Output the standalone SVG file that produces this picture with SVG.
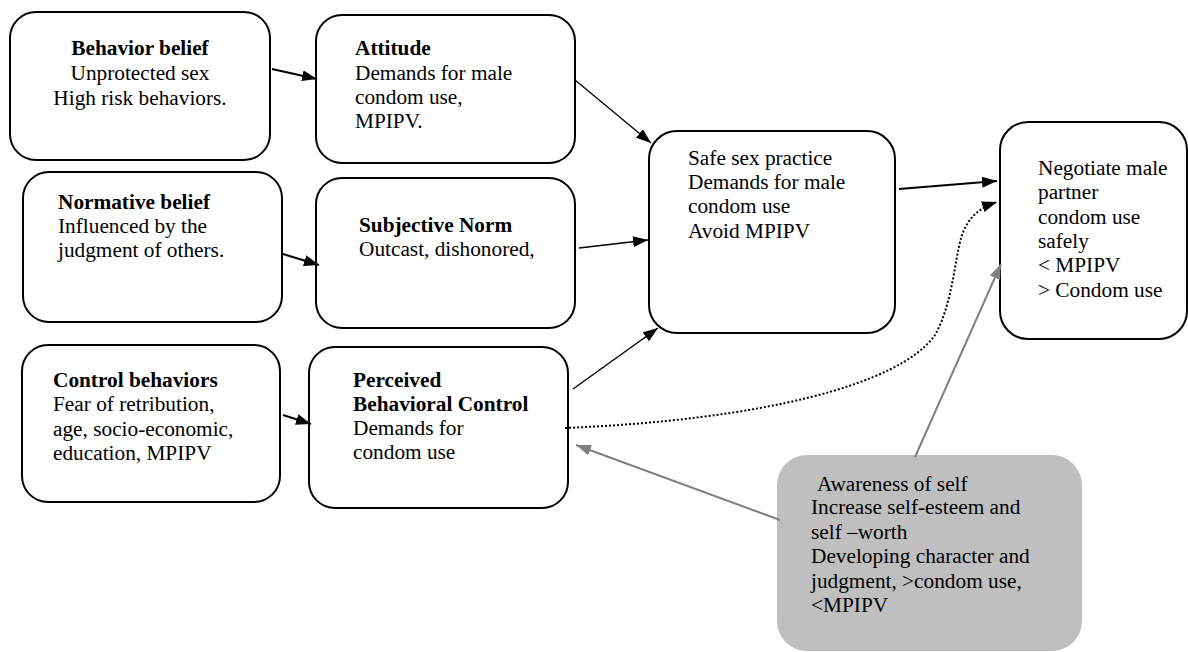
<svg xmlns="http://www.w3.org/2000/svg" width="1188" height="652" viewBox="0 0 1188 652">
<style>
.box{fill:#fff;stroke:#000;stroke-width:2}
.grey{fill:#bfbfbf;stroke:none}
.t{font-size:21.3px;fill:#000}
.b{font-weight:bold}
.c{stroke:#000;fill:none}
.g{stroke:#808080;fill:none;stroke-width:2}
</style>
<defs>
<marker id="ah" markerUnits="userSpaceOnUse" markerWidth="15" markerHeight="11" refX="15" refY="5.5" orient="auto"><path d="M0,0 L15,5.5 L0,11 z" fill="#000"/></marker>
<marker id="ahg" markerUnits="userSpaceOnUse" markerWidth="15" markerHeight="11" refX="15" refY="5.5" orient="auto"><path d="M0,0 L15,5.5 L0,11 z" fill="#808080"/></marker>
</defs>
<g font-family="Liberation Serif, DejaVu Serif, serif">
<g id="n1"><rect class="box" x="10" y="12" width="260" height="148" rx="26"/>
<text class="t" text-anchor="middle"><tspan class="b" x="140" y="55">Behavior belief</tspan><tspan x="140" y="80">Unprotected sex</tspan><tspan x="140" y="105">High risk behaviors.</tspan></text></g>
<g id="n2"><rect class="box" x="316" y="15" width="259" height="148" rx="26"/>
<text class="t"><tspan class="b" x="355" y="55">Attitude</tspan><tspan x="355" y="80">Demands for male</tspan><tspan x="355" y="104">condom use,</tspan><tspan x="355" y="128">MPIPV.</tspan></text></g>
<g id="n3"><rect class="box" x="23" y="172" width="259" height="150" rx="26"/>
<text class="t"><tspan class="b" x="58" y="209">Normative belief</tspan><tspan x="58" y="233">Influenced by the</tspan><tspan x="58" y="257">judgment of others.</tspan></text></g>
<g id="n4"><rect class="box" x="316" y="178" width="259" height="150" rx="26"/>
<text class="t"><tspan class="b" x="359" y="232">Subjective Norm</tspan><tspan x="359" y="256">Outcast, dishonored,</tspan></text></g>
<g id="n5"><rect class="box" x="22" y="345" width="258" height="157" rx="26"/>
<text class="t"><tspan class="b" x="53" y="387">Control behaviors</tspan><tspan x="53" y="411">Fear of retribution,</tspan><tspan x="53" y="436">age, socio-economic,</tspan><tspan x="53" y="460">education, MPIPV</tspan></text></g>
<g id="n6"><rect class="box" x="309" y="347" width="259" height="161" rx="26"/>
<text class="t"><tspan class="b" x="353" y="387">Perceived</tspan><tspan class="b" x="353" y="411">Behavioral Control</tspan><tspan x="353" y="435">Demands for</tspan><tspan x="353" y="459">condom use</tspan></text></g>
<g id="n7"><rect class="box" x="649" y="131" width="246" height="202" rx="28"/>
<text class="t"><tspan x="688" y="165">Safe sex practice</tspan><tspan x="688" y="189">Demands for male</tspan><tspan x="688" y="213">condom use</tspan><tspan x="688" y="238">Avoid MPIPV</tspan></text></g>
<g id="n8"><rect class="box" x="1000" y="122" width="187" height="217" rx="28"/>
<text class="t"><tspan x="1038" y="175">Negotiate male</tspan><tspan x="1038" y="199">partner</tspan><tspan x="1038" y="224">condom use</tspan><tspan x="1038" y="248">safely</tspan><tspan x="1038" y="272">&lt; MPIPV</tspan><tspan x="1038" y="297">&gt; Condom use</tspan></text></g>
<g id="n9"><rect class="grey" x="777" y="455" width="305" height="196" rx="30"/>
<text class="t"><tspan x="817" y="491">Awareness of self</tspan><tspan x="811" y="514">Increase self-esteem and</tspan><tspan x="811" y="539">self –worth</tspan><tspan x="811" y="563">Developing character and</tspan><tspan x="811" y="588">judgment, &gt;condom use,</tspan><tspan x="811" y="612">&lt;MPIPV</tspan></text></g>
</g>
<g id="connectors">
<path class="c" stroke-width="2" d="M272,69 L317,79" marker-end="url(#ah)"/>
<path class="c" stroke-width="1.3" d="M575,80 L651,143" marker-end="url(#ah)"/>
<path class="c" stroke-width="2" d="M283,254 L319,265" marker-end="url(#ah)"/>
<path class="c" stroke-width="1.5" d="M579,248 L648,240" marker-end="url(#ah)"/>
<path class="c" stroke-width="2" d="M283,415 L311,424" marker-end="url(#ah)"/>
<path class="c" stroke-width="1.5" d="M573,389 L658,328" marker-end="url(#ah)"/>
<path class="c" stroke-width="2" d="M899,189 L997,181" marker-end="url(#ah)"/>
<path class="c" stroke-width="2" stroke-dasharray="2,2" d="M565,428 C760,420 900,385 935,335 C955,300 955,245 965,228 C972,214 982,207 997,202" marker-end="url(#ah)"/>
<path class="g" d="M915,457 L1001,264" marker-end="url(#ahg)"/>
<path class="g" d="M780,520 L576,445" marker-end="url(#ahg)"/>
</g>
</svg>
